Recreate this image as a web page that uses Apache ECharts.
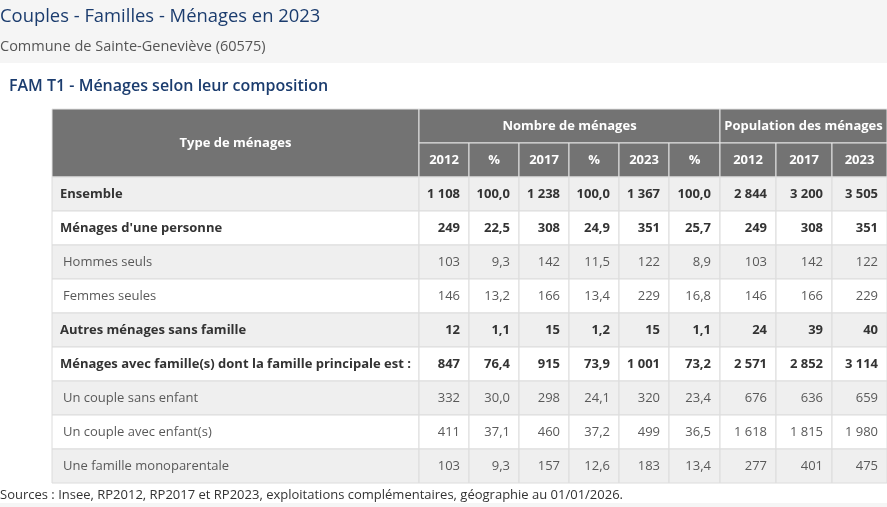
<!DOCTYPE html>
<html>
<head>
<meta charset="utf-8">
<script src="https://cdn.jsdelivr.net/npm/echarts@6/dist/echarts.min.js"></script>
<style>html,body{margin:0;padding:0;background:#f5f5f5}#c{width:887px;height:507px}</style>
</head>
<body>
<div id="c"></div>
<script>
// ---------- data ----------
const rowLabels = ['Ensemble', "Ménages d'une personne", 'Hommes seuls', 'Femmes seules', 'Autres ménages sans famille', 'Ménages avec famille(s) dont la famille principale est :', 'Un couple sans enfant', 'Un couple avec enfant(s)', 'Une famille monoparentale'];
const boldRows = [true, true, false, false, true, true, false, false, false];
const years = ['2012', '2017', '2023'];
const menages2012 = [1108, 249, 103, 146, 12, 847, 332, 411, 103];
const pct2012 = [100.0, 22.5, 9.3, 13.2, 1.1, 76.4, 30.0, 37.1, 9.3];
const menages2017 = [1238, 308, 142, 166, 15, 915, 298, 460, 157];
const pct2017 = [100.0, 24.9, 11.5, 13.4, 1.2, 73.9, 24.1, 37.2, 12.6];
const menages2023 = [1367, 351, 122, 229, 15, 1001, 320, 499, 183];
const pct2023 = [100.0, 25.7, 8.9, 16.8, 1.1, 73.2, 23.4, 36.5, 13.4];
const pop2012 = [2844, 249, 103, 146, 24, 2571, 676, 1618, 277];
const pop2017 = [3200, 308, 142, 166, 39, 2852, 636, 1815, 401];
const pop2023 = [3505, 351, 122, 229, 40, 3114, 659, 1980, 475];
const headerCol0 = 'Type de ménages';
const groupHeaders = ['Nombre de ménages', 'Population des ménages'];

// ---------- layout (column widths in px units of the x axis) ----------
const colWidths = [367, 50, 50, 50, 50, 50, 51, 56, 56, 55];
const colEdges = [0];
colWidths.forEach(w => colEdges.push(colEdges[colEdges.length - 1] + w));
const FONT = '"Open Sans", "Noto Sans", sans-serif';

function fmtInt(n) { return String(n).replace(/\B(?=(\d{3})+(?!\d))/g, '\u00a0'); }
function fmtPct(n) { return n.toFixed(1).replace('.', ','); }

// ---------- cells ----------
const cells = [];
// header
cells.push({ c0: 0, c1: 1, r: 0, rs: 2, text: headerCol0, kind: 'head', align: 'center' });
cells.push({ c0: 1, c1: 7, r: 0, rs: 1, text: groupHeaders[0], kind: 'head', align: 'center' });
cells.push({ c0: 7, c1: 10, r: 0, rs: 1, text: groupHeaders[1], kind: 'head', align: 'center' });
const subHeads = [years[0], '%', years[1], '%', years[2], '%', years[0], years[1], years[2]];
subHeads.forEach((t, i) => cells.push({ c0: i + 1, c1: i + 2, r: 1, rs: 1, text: t, kind: 'head', align: 'center' }));
// body
const cols = [
  menages2012.map(fmtInt), pct2012.map(fmtPct),
  menages2017.map(fmtInt), pct2017.map(fmtPct),
  menages2023.map(fmtInt), pct2023.map(fmtPct),
  pop2012.map(fmtInt), pop2017.map(fmtInt), pop2023.map(fmtInt)
];
rowLabels.forEach((lab, i) => {
  const kind = boldRows[i] ? 'bold' : 'norm';
  cells.push({ c0: 0, c1: 1, r: i + 2, rs: 1, text: lab, kind, align: 'left', stripe: i % 2 === 0 });
  cols.forEach((col, j) => cells.push({ c0: j + 1, c1: j + 2, r: i + 2, rs: 1, text: col[i], kind, align: 'right', stripe: i % 2 === 0 }));
});

const yCats = ['h0', 'h1'].concat(rowLabels.map((_, i) => 'r' + i));

function renderItem(params, api) {
  const cell = cells[params.dataIndex];
  const pA = api.coord([colEdges[cell.c0], cell.r]);
  const pB = api.coord([colEdges[cell.c1], cell.r]);
  const h = api.size([0, 1])[1];
  const x = pA[0], w = pB[0] - pA[0];
  const y = pA[1] - h / 2, hh = h * cell.rs;
  const head = cell.kind === 'head';
  const fill = head ? '#737373' : (cell.stripe ? '#efefef' : '#ffffff');
  const stroke = head ? '#e4e4e4' : '#dcdcdc';
  let tx, align;
  if (cell.align === 'center') { tx = x + w / 2; align = 'center'; }
  else if (cell.align === 'left') { tx = x + (cell.kind === 'bold' ? 8 : 11); align = 'left'; }
  else { tx = x + w - 9; align = 'right'; }
  const weight = cell.kind === 'norm' ? 'normal' : 'bold';
  const color = head ? '#ffffff' : (cell.kind === 'bold' ? '#333333' : '#595959');
  return {
    type: 'group',
    children: [
      { type: 'rect', shape: { x: x, y: y, width: w, height: hh }, style: { fill: fill, stroke: stroke, lineWidth: 1 } },
      { type: 'text', x: tx, y: y + hh / 2, style: { text: cell.text, fill: color, align: align, verticalAlign: 'middle', font: weight + ' 13px ' + FONT } }
    ]
  };
}

const chart = echarts.init(document.getElementById('c'));
chart.setOption({
  backgroundColor: '#f5f5f5',
  animation: false,
  graphic: [
    { type: 'rect', left: 0, top: 63, z: -10, silent: true, shape: { width: 887, height: 440 }, style: { fill: '#ffffff' } }
  ],
  title: [
    { text: 'Couples - Familles - Ménages en 2023', left: 0, top: 8, padding: 0, textStyle: { fontFamily: FONT, fontSize: 18.4, fontWeight: 'normal', color: '#1b3c6e' } },
    { text: 'Commune de Sainte-Geneviève (60575)', left: 0, top: 39, padding: 0, textStyle: { fontFamily: FONT, fontSize: 14.5, fontWeight: 'normal', color: '#555555' } },
    { text: 'FAM T1 - Ménages selon leur composition', left: 9, top: 78, padding: 0, textStyle: { fontFamily: FONT, fontSize: 16, fontWeight: 600, color: '#1b3c6e' } },
    { text: 'Sources : Insee, RP2012, RP2017 et RP2023, exploitations complémentaires, géographie au 01/01/2026.', left: 0, top: 489, padding: 0, textStyle: { fontFamily: FONT, fontSize: 13, fontWeight: 'normal', color: '#333333' } }
  ],
  grid: { left: 52, top: 109, width: colEdges[colEdges.length - 1], height: 374 },
  xAxis: { type: 'value', min: 0, max: colEdges[colEdges.length - 1], show: false },
  yAxis: { type: 'category', inverse: true, data: yCats, show: false },
  series: [{
    type: 'custom',
    renderItem: renderItem,
    clip: false,
    data: cells.map(c => [colEdges[c.c0], c.r])
  }]
});
</script>
</body>
</html>
